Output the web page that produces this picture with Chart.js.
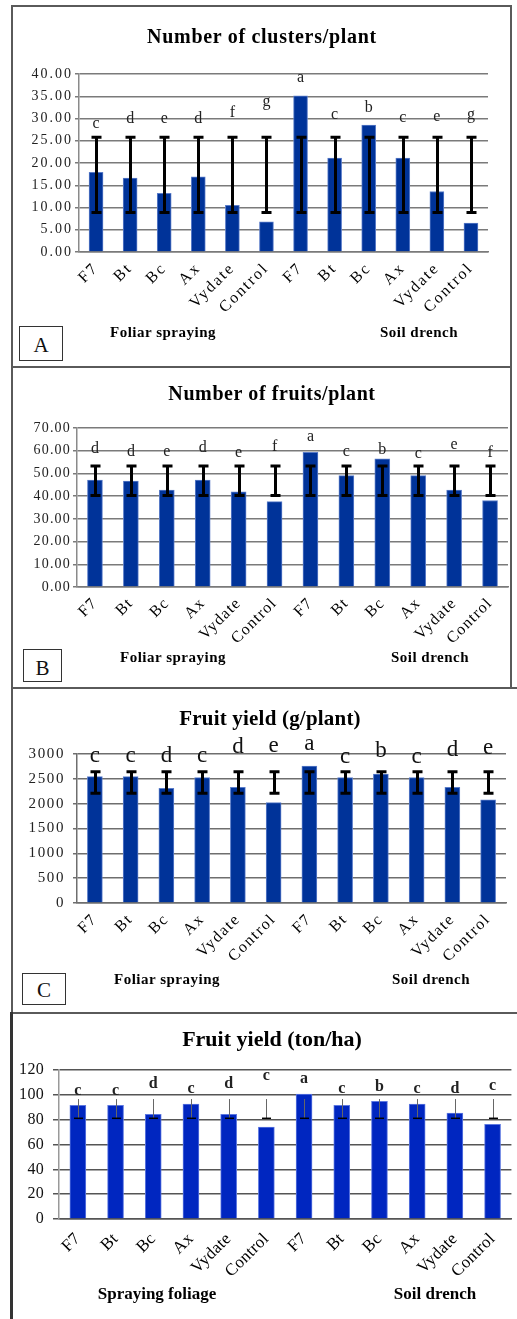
<!DOCTYPE html>
<html>
<head>
<meta charset="utf-8">
<script src="https://cdn.jsdelivr.net/npm/chart.js@4.4.1/dist/chart.umd.min.js"></script>
<style>
  html, body { margin: 0; padding: 0; background: #fff; }
  body { width: 517px; height: 1319px; position: relative; overflow: hidden;
         font-family: "Liberation Serif", "Times New Roman", serif; }
  canvas { position: absolute; left: 0; }
  .line { position: absolute; background: #5a5a5a; }
  .t { position: absolute; transform: translate(-50%, -50%); white-space: nowrap; color: #000; }
  .title { font-weight: bold; }
  .grp { font-weight: bold; }
  .box { position: absolute; box-sizing: border-box; border: 1px solid #333; background: #fff;
         display: flex; align-items: flex-end; justify-content: center; color: #111; }
</style>
</head>
<body>

<!-- panel frames -->
<div class="line" style="left:11px;top:5px;width:501px;height:2px"></div>
<div class="line" style="left:11px;top:5px;width:2px;height:683px"></div>
<div class="line" style="left:510px;top:5px;width:2px;height:683px"></div>
<div class="line" style="left:11px;top:366px;width:501px;height:2px"></div>
<div class="line" style="left:11px;top:687px;width:506px;height:2px"></div>
<div class="line" style="left:11px;top:687px;width:2px;height:330px"></div>
<div class="line" style="left:11px;top:1012px;width:506px;height:2px"></div>
<div class="line" style="left:10px;top:1012px;width:3px;height:307px;background:#333"></div>

<canvas id="chartA" width="517" height="366" style="top:0px"></canvas>
<canvas id="chartB" width="517" height="320" style="top:367px"></canvas>
<canvas id="chartC" width="517" height="324" style="top:688px"></canvas>
<canvas id="chartD" width="517" height="305" style="top:1014px"></canvas>

<!-- titles -->
<div class="t title" style="left:262px;top:36px;font-size:20px;letter-spacing:0.7px">Number of clusters/plant</div>
<div class="t title" style="left:272px;top:393px;font-size:20px;letter-spacing:0.6px">Number of fruits/plant</div>
<div class="t title" style="left:270px;top:718px;font-size:21px;letter-spacing:0.2px">Fruit yield (g/plant)</div>
<div class="t title" style="left:272px;top:1039px;font-size:22px">Fruit yield (ton/ha)</div>

<!-- group captions -->
<div class="t grp" style="left:163px;top:332px;font-size:15px;letter-spacing:0.5px">Foliar spraying</div>
<div class="t grp" style="left:419px;top:332px;font-size:15px;letter-spacing:0.5px">Soil drench</div>
<div class="t grp" style="left:173px;top:657px;font-size:15px;letter-spacing:0.5px">Foliar spraying</div>
<div class="t grp" style="left:430px;top:657px;font-size:15px;letter-spacing:0.5px">Soil drench</div>
<div class="t grp" style="left:167px;top:979px;font-size:15px;letter-spacing:0.5px">Foliar spraying</div>
<div class="t grp" style="left:431px;top:979px;font-size:15px;letter-spacing:0.5px">Soil drench</div>
<div class="t grp" style="left:157px;top:1294px;font-size:17px">Spraying foliage</div>
<div class="t grp" style="left:435px;top:1294px;font-size:17px">Soil drench</div>

<!-- panel tags -->
<div class="box" style="left:19px;top:326px;width:44px;height:35px;font-size:21px;padding-bottom:2px">A</div>
<div class="box" style="left:23px;top:649px;width:39px;height:33px;font-size:21px;padding-bottom:0px">B</div>
<div class="box" style="left:22px;top:973px;width:44px;height:32px;font-size:21px;padding-bottom:1px">C</div>

<script>
// Treatments: six foliar-spray treatments followed by six soil-drench treatments
const treatments = ['F7', 'Bt', 'Bc', 'Ax', 'Vydate', 'Control',
                    'F7', 'Bt', 'Bc', 'Ax', 'Vydate', 'Control'];

// Number of clusters per plant
const clusterValues  = [17.9, 16.6, 13.2, 16.9, 10.5, 6.8, 35.1, 21.1, 28.5, 21.1, 13.6, 6.5];
const clusterErrLow  = [8.9, 8.9, 8.9, 8.9, 8.9, 8.9, 8.9, 8.9, 8.9, 8.9, 8.9, 8.9];
const clusterErrHigh = [25.8, 25.8, 25.8, 25.8, 25.8, 25.8, 25.8, 25.8, 25.8, 25.8, 25.8, 25.8];
const clusterLetters = ['c', 'd', 'e', 'd', 'f', 'g', 'a', 'c', 'b', 'c', 'e', 'g'];
const clusterLetterAt = [27.9, 29.1, 29.1, 29.0, 30.3, 32.8, 38.1, 29.9, 31.4, 29.3, 29.5, 30.0];
const clusterTicks = [0, 5, 10, 15, 20, 25, 30, 35, 40];

// Number of fruits per plant
const fruitValues  = [47.1, 46.6, 42.7, 47.1, 41.9, 37.6, 59.3, 49.0, 56.4, 49.0, 42.7, 38.1];
const fruitErrLow  = [40.3, 40.3, 40.3, 40.3, 40.3, 40.3, 40.3, 40.3, 40.3, 40.3, 40.3, 40.3];
const fruitErrHigh = [53.3, 53.3, 53.3, 53.3, 53.3, 53.3, 53.3, 53.3, 53.3, 53.3, 53.3, 53.3];
const fruitLetters = ['d', 'd', 'e', 'd', 'e', 'f', 'a', 'c', 'b', 'c', 'e', 'f'];
const fruitLetterAt = [58.9, 57.8, 57.8, 59.6, 57.4, 59.9, 64.3, 57.7, 58.6, 56.7, 60.6, 57.1];
const fruitTicks = [0, 10, 20, 30, 40, 50, 60, 70];

// Fruit yield, g per plant
const yieldPlantValues  = [2545, 2545, 2310, 2525, 2330, 2022, 2758, 2525, 2598, 2525, 2330, 2075];
const yieldPlantErrLow  = [2210, 2210, 2210, 2210, 2210, 2210, 2210, 2210, 2210, 2210, 2210, 2210];
const yieldPlantErrHigh = [2645, 2645, 2645, 2645, 2645, 2645, 2645, 2645, 2645, 2645, 2645, 2645];
const yieldPlantLetters = ['c', 'c', 'd', 'c', 'd', 'e', 'a', 'c', 'b', 'c', 'd', 'e'];
const yieldPlantLetterAt = [2845, 2845, 2845, 2845, 3013, 3046, 3080, 2825, 2933, 2825, 2959, 2999];
const yieldPlantTicks = [0, 500, 1000, 1500, 2000, 2500, 3000];

// Fruit yield, ton per hectare
const yieldHaValues  = [91.6, 91.6, 84.3, 92.6, 84.3, 74.1, 100.7, 91.6, 94.8, 92.6, 85.4, 76.3];
const yieldHaErrLow  = [81.1, 81.1, 81.1, 81.1, 81.1, 81.1, 81.1, 81.1, 81.1, 81.1, 81.1, 81.1];
const yieldHaErrHigh = [96.6, 96.6, 96.6, 96.6, 96.6, 96.6, 96.6, 96.6, 96.6, 96.6, 96.6, 96.6];
const yieldHaLetters = ['c', 'c', 'd', 'c', 'd', 'c', 'a', 'c', 'b', 'c', 'd', 'c'];
const yieldHaLetterAt = [99.9, 99.9, 105.8, 101.2, 105.2, 111.9, 109.3, 101.2, 103.1, 101.2, 101.7, 103.9];
const yieldHaTicks = [0, 20, 40, 60, 80, 100, 120];

const SERIF = '"Liberation Serif", "Times New Roman", serif';

// Error bars and significance letters, drawn on top of the bars
const annotations = {
  id: 'annotations',
  beforeDraw(chart) {
    chart.ctx.letterSpacing = chart.$spec.spacing || '0px';
  },
  afterDatasetsDraw(chart) {
    const s = chart.$spec;
    const ctx = chart.ctx;
    const y = chart.scales.y;
    const bars = chart.getDatasetMeta(0).data;
    ctx.save();
    ctx.letterSpacing = '0px';
    bars.forEach((bar, i) => {
      const x = Math.round(bar.x) + (s.err.width % 2 ? 0.5 : 0);
      const yHi = y.getPixelForValue(s.errHigh[i]);
      const yLo = y.getPixelForValue(s.errLow[i]);
      ctx.lineCap = 'butt';
      ctx.strokeStyle = s.err.stemColor;
      ctx.lineWidth = s.err.width;
      ctx.beginPath();
      ctx.moveTo(x, yHi);
      ctx.lineTo(x, yLo);
      ctx.stroke();
      ctx.strokeStyle = s.err.capColor;
      ctx.lineWidth = s.err.capWidth;
      ctx.beginPath();
      if (s.err.topCap) {
        ctx.moveTo(x - s.err.cap / 2, yHi);
        ctx.lineTo(x + s.err.cap / 2, yHi);
      }
      ctx.moveTo(x - s.err.cap / 2, yLo);
      ctx.lineTo(x + s.err.cap / 2, yLo);
      ctx.stroke();
    });
    ctx.font = s.letterFont;
    ctx.fillStyle = s.letterColor;
    ctx.textAlign = 'center';
    ctx.textBaseline = 'alphabetic';
    bars.forEach((bar, i) => {
      ctx.fillText(s.letters[i], bar.x, y.getPixelForValue(s.letterAt[i]));
    });
    ctx.restore();
  }
};

function buildChart(id, spec) {
  const cv = document.getElementById(id);
  const W = cv.width, H = cv.height;
  const a = spec.area;
  return new Chart(cv, {
    type: 'bar',
    data: {
      labels: treatments,
      datasets: [{
        data: spec.values,
        backgroundColor: spec.barColor,
        borderColor: spec.barEdge,
        borderWidth: 1,
        barThickness: spec.barWidth
      }]
    },
    options: {
      responsive: false,
      animation: false,
      events: [],
      layout: { padding: { left: 0, top: a.top, right: W - a.right, bottom: 0 } },
      plugins: { legend: { display: false }, tooltip: { enabled: false }, title: { display: false } },
      scales: {
        x: {
          offset: true,
          grid: { display: false, drawTicks: false },
          border: { display: true, color: spec.gridColor, width: spec.gridWidth },
          ticks: {
            autoSkip: false, minRotation: 45, maxRotation: 45,
            padding: spec.xPad, color: '#000',
            font: { family: SERIF, size: spec.xFont }
          },
          afterFit(scale) { scale.height = H - a.bottom; }
        },
        y: {
          min: 0, max: spec.ticks[spec.ticks.length - 1],
          afterBuildTicks(scale) { scale.ticks = spec.ticks.map(v => ({ value: v })); },
          grid: { color: spec.gridColor, lineWidth: spec.gridWidth, tickLength: spec.tickLen },
          border: { display: true, color: spec.axisColor, width: spec.gridWidth },
          ticks: {
            padding: spec.yPad, color: spec.yColor,
            font: { family: SERIF, size: spec.yFont },
            callback: spec.fmt
          },
          afterFit(scale) { scale.width = a.left; }
        }
      }
    },
    plugins: [annotations]
  });
}

const specs = {
  chartA: {
    area: { left: 79, right: 488, top: 74, bottom: 252 },
    values: clusterValues, errLow: clusterErrLow, errHigh: clusterErrHigh,
    letters: clusterLetters, letterAt: clusterLetterAt, ticks: clusterTicks,
    fmt: v => Number(v).toFixed(2),
    barColor: '#003399', barEdge: '#5a7cc8', barWidth: 14,
    gridColor: '#7a7a7a', axisColor: '#8a8a8a', gridWidth: 1.5, tickLen: 4,
    xPad: 7, xFont: 16, yFont: 14, yPad: 2, yColor: '#222', spacing: '2px',
    letterFont: '16px ' + SERIF, letterColor: '#222',
    err: { width: 3, stemColor: '#000', capColor: '#000', capWidth: 3, cap: 10, topCap: true }
  },
  chartB: {
    area: { left: 77, right: 508, top: 61, bottom: 220 },
    values: fruitValues, errLow: fruitErrLow, errHigh: fruitErrHigh,
    letters: fruitLetters, letterAt: fruitLetterAt, ticks: fruitTicks,
    fmt: v => Number(v).toFixed(2),
    barColor: '#003399', barEdge: '#5a7cc8', barWidth: 15,
    gridColor: '#7a7a7a', axisColor: '#8a8a8a', gridWidth: 1.5, tickLen: 4,
    xPad: 7, xFont: 16, yFont: 14, yPad: 2, yColor: '#222', spacing: '1.2px',
    letterFont: '16px ' + SERIF, letterColor: '#222',
    err: { width: 3, stemColor: '#000', capColor: '#000', capWidth: 3, cap: 10, topCap: true }
  },
  chartC: {
    area: { left: 77, right: 506, top: 66, bottom: 215 },
    values: yieldPlantValues, errLow: yieldPlantErrLow, errHigh: yieldPlantErrHigh,
    letters: yieldPlantLetters, letterAt: yieldPlantLetterAt, ticks: yieldPlantTicks,
    fmt: v => String(v),
    barColor: '#003399', barEdge: '#5a7cc8', barWidth: 15,
    gridColor: '#6e6e6e', axisColor: '#6e6e6e', gridWidth: 1.5, tickLen: 4,
    xPad: 7, xFont: 16, yFont: 15, yPad: 8, yColor: '#222', spacing: '1.6px',
    letterFont: '23px ' + SERIF, letterColor: '#111',
    err: { width: 3, stemColor: '#000', capColor: '#000', capWidth: 3, cap: 10, topCap: true }
  },
  chartD: {
    area: { left: 59, right: 517, top: 56, bottom: 205 },
    values: yieldHaValues, errLow: yieldHaErrLow, errHigh: yieldHaErrHigh,
    letters: yieldHaLetters, letterAt: yieldHaLetterAt, ticks: yieldHaTicks,
    fmt: v => String(v),
    barColor: '#0026c0', barEdge: '#5d78e0', barWidth: 16,
    gridColor: '#555', axisColor: '#999', gridWidth: 1.5, tickLen: 6,
    xPad: 10, xFont: 17, yFont: 16, yPad: 9, yColor: '#111', spacing: '0.3px',
    letterFont: 'bold 16px ' + SERIF, letterColor: '#222',
    err: { width: 1, stemColor: '#666', capColor: '#000', capWidth: 1.5, cap: 9, topCap: false }
  }
};

// each chart gets its own spec attached before the first draw
Chart.register({
  id: 'specAttach',
  beforeInit(chart) { chart.$spec = specs[chart.canvas.id]; }
});

const charts = {};
for (const id of Object.keys(specs)) {
  charts[id] = buildChart(id, specs[id]);
}
</script>
</body>
</html>
